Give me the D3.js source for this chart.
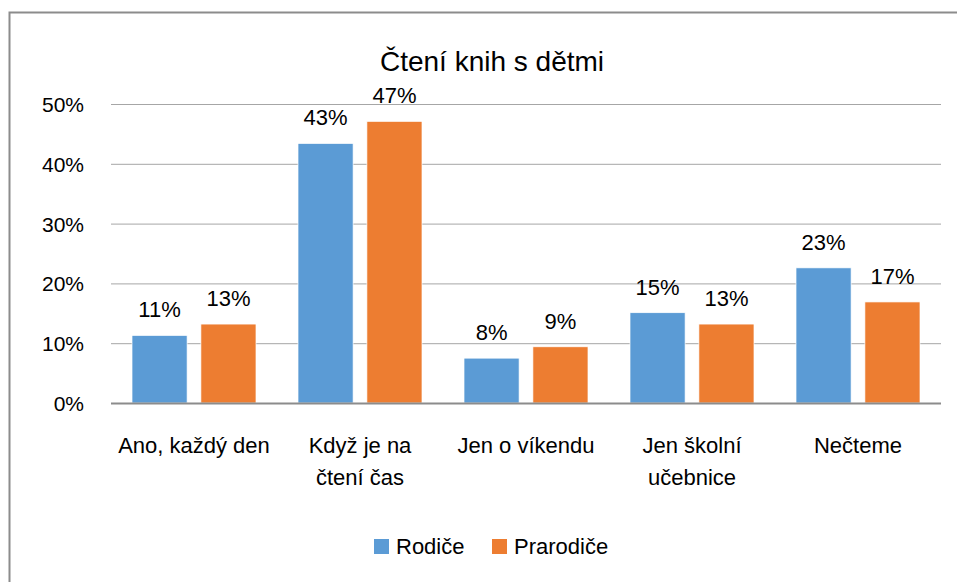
<!DOCTYPE html>
<html>
<head>
<meta charset="utf-8">
<script src="https://d3js.org/d3.v7.min.js"></script>
<style>
  body { margin: 0; background: #fff; overflow: hidden; }
  text { font-family: "Liberation Sans", Arial, sans-serif; fill: #000; }
</style>
</head>
<body>
<svg width="957" height="582"></svg>
<script>
// data
var categories = [["Ano, každý den"], ["Když je na", "čtení čas"], ["Jen o víkendu"], ["Jen školní", "učebnice"], ["Nečteme"]];
var seriesNames = ["Rodiče", "Prarodiče"];
var rodice = [11.3, 43.4, 7.5, 15.1, 22.6];
var prarodice = [13.2, 47.1, 9.4, 13.2, 16.9];
var valueLabels = [["11%", "13%"], ["43%", "47%"], ["8%", "9%"], ["15%", "13%"], ["23%", "17%"]];
var ticks = [0, 10, 20, 30, 40, 50];
var colors = ["#5B9BD5", "#ED7D31"];

var svg = d3.select("svg");

// outer chart border (runs off the right/bottom of the picture)
svg.append("rect")
    .attr("x", 9.5).attr("y", 12.5)
    .attr("width", 1000).attr("height", 1000)
    .attr("fill", "none")
    .attr("stroke", "#8c8c8c")
    .attr("stroke-width", 2);

svg.append("text")
    .attr("x", 492).attr("y", 71)
    .attr("text-anchor", "middle")
    .style("font-size", "28px")
    .text("Čtení knih s dětmi");

var x = d3.scaleBand()
    .domain(d3.range(categories.length))
    .range([111, 941]);

var x1 = d3.scaleBand()
    .domain([0, 1])
    .range([21, x.bandwidth() - 21])
    .paddingInner(0.2);

var y = d3.scaleLinear().domain([0, 50]).range([403, 104]);

// gridlines
svg.append("g").selectAll("line")
    .data(ticks.slice(1))
    .enter().append("line")
    .attr("x1", 111).attr("x2", 941)
    .attr("y1", function (d) { return y(d) + 0.5; })
    .attr("y2", function (d) { return y(d) + 0.5; })
    .attr("stroke", "#a6a6a6")
    .attr("stroke-width", 1);

// y tick labels
svg.append("g").selectAll("text")
    .data(ticks)
    .enter().append("text")
    .attr("x", 84)
    .attr("y", function (d) { return y(d) + 8; })
    .attr("text-anchor", "end")
    .style("font-size", "21px")
    .text(function (d) { return d + "%"; });

var rows = categories.map(function (c, i) { return [rodice[i], prarodice[i]]; });

var groups = svg.append("g").selectAll("g")
    .data(rows)
    .enter().append("g")
    .attr("transform", function (d, i) { return "translate(" + x(i) + ",0)"; });

groups.selectAll("rect")
    .data(function (d) { return d; })
    .enter().append("rect")
    .attr("x", function (d, j) { return x1(j); })
    .attr("y", function (d) { return y(d); })
    .attr("width", x1.bandwidth())
    .attr("height", function (d) { return y(0) - y(d); })
    .attr("fill", function (d, j) { return colors[j]; })
    .attr("stroke", "#fff")
    .attr("stroke-width", 0.7);

groups.selectAll("text.val")
    .data(function (d, i) { return d.map(function (v, j) { return { v: v, t: valueLabels[i][j] }; }); })
    .enter().append("text")
    .attr("class", "val")
    .attr("x", function (d, j) { return x1(j) + x1.bandwidth() / 2; })
    .attr("y", function (d) { return y(d.v) - 18; })
    .attr("text-anchor", "middle")
    .style("font-size", "22px")
    .text(function (d) { return d.t; });

// zero axis line
svg.append("line")
    .attr("x1", 111).attr("x2", 941)
    .attr("y1", 403.5).attr("y2", 403.5)
    .attr("stroke", "#8c8c8c")
    .attr("stroke-width", 2);

// category labels
var cat = svg.append("g").selectAll("text")
    .data(categories)
    .enter().append("text")
    .attr("text-anchor", "middle")
    .attr("x", function (d, i) { return x(i) + x.bandwidth() / 2; })
    .attr("y", 453)
    .style("font-size", "22px");

cat.selectAll("tspan")
    .data(function (d) { return d; })
    .enter().append("tspan")
    .attr("x", function () { return d3.select(this.parentNode).attr("x"); })
    .attr("dy", function (d, k) { return k === 0 ? 0 : 32; })
    .text(function (d) { return d; });

// legend
var legendX = [374, 492];
var legend = svg.append("g").selectAll("g")
    .data(seriesNames)
    .enter().append("g")
    .attr("transform", function (d, i) { return "translate(" + legendX[i] + ",539)"; });

legend.append("rect")
    .attr("width", 15).attr("height", 15)
    .attr("fill", function (d, i) { return colors[i]; });

legend.append("text")
    .attr("x", 22).attr("y", 15)
    .style("font-size", "22px")
    .text(function (d) { return d; });
</script>
</body>
</html>
